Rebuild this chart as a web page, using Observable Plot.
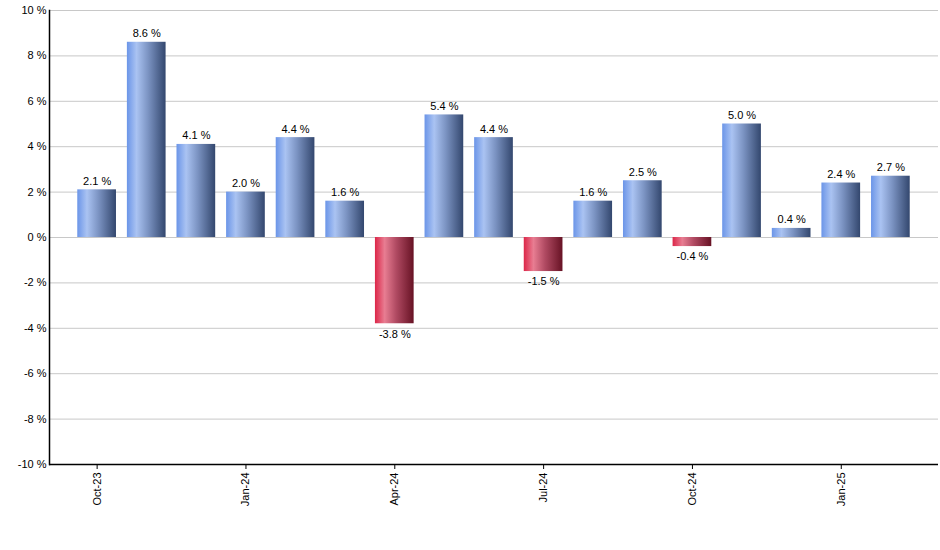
<!DOCTYPE html>
<html>
<head>
<meta charset="utf-8">
<script src="https://cdn.jsdelivr.net/npm/d3@7"></script>
<script src="https://cdn.jsdelivr.net/npm/@observablehq/plot@0.6"></script>
<style>
  html, body { margin: 0; padding: 0; background: #fff; }
</style>
</head>
<body>
<div id="chart"></div>
<script>
const months = ["Oct-23","Nov-23","Dec-23","Jan-24","Feb-24","Mar-24","Apr-24","May-24","Jun-24","Jul-24","Aug-24","Sep-24","Oct-24","Nov-24","Dec-24","Jan-25","Feb-25"];
const values = [2.1, 8.6, 4.1, 2.0, 4.4, 1.6, -3.8, 5.4, 4.4, -1.5, 1.6, 2.5, -0.4, 5.0, 0.4, 2.4, 2.7];
const xTickLabels = ["Oct-23","Jan-24","Apr-24","Jul-24","Oct-24","Jan-25"];
const yTicks = [-10, -8, -6, -4, -2, 0, 2, 4, 6, 8, 10];

const data = months.map((m, i) => ({month: m, value: values[i]}));
const fmt = v => v.toFixed(1) + " %";

const svg = Plot.plot({
  width: 940,
  height: 550,
  marginLeft: 49,
  marginRight: 2,
  marginTop: 10,
  marginBottom: 86,
  style: {fontFamily: "'Liberation Sans', Arial, sans-serif", fontSize: "11px", color: "#000", background: "#fff"},
  x: {domain: months, type: "band", round: false, paddingInner: 0.22, paddingOuter: 0.57, label: null},
  y: {domain: [-10, 10], label: null},
  marks: [
    Plot.gridY(yTicks, {stroke: "#c8c8c8", strokeOpacity: 1}),
    Plot.barY(data, {x: "month", y: "value", fill: d => d.value >= 0 ? "url(#gradPos)" : "url(#gradNeg)"}),
    Plot.text(data.filter(d => d.value >= 0), {x: "month", y: "value", text: d => fmt(d.value), lineAnchor: "bottom", dy: -5, fill: "#000", fontSize: 11}),
    Plot.text(data.filter(d => d.value < 0), {x: "month", y: "value", text: d => fmt(d.value), lineAnchor: "top", dy: 6, fill: "#000", fontSize: 11}),
    Plot.ruleY([-10], {stroke: "#000", strokeWidth: 1.5}),
    Plot.frame({anchor: "left", stroke: "#000", strokeWidth: 1.5}),
    Plot.axisY({ticks: yTicks, tickSize: 0, tickPadding: 3, tickFormat: d => d + " %", label: null, fontSize: 11}),
    Plot.axisX({ticks: xTickLabels, tickSize: 5, tickRotate: -90, tickPadding: 3, label: null, fontSize: 11})
  ]
});

d3.select(svg).insert("defs", ":first-child").html(`
  <linearGradient id="gradPos" x1="0" y1="0" x2="1" y2="0">
    <stop offset="0" stop-color="#6b95e8"/>
    <stop offset="0.25" stop-color="#aac3f2"/>
    <stop offset="0.55" stop-color="#7b93c2"/>
    <stop offset="1" stop-color="#33476e"/>
  </linearGradient>
  <linearGradient id="gradNeg" x1="0" y1="0" x2="1" y2="0">
    <stop offset="0" stop-color="#dc2648"/>
    <stop offset="0.25" stop-color="#e87d92"/>
    <stop offset="0.55" stop-color="#b04a62"/>
    <stop offset="1" stop-color="#671224"/>
  </linearGradient>
`);

document.getElementById("chart").appendChild(svg);
</script>
</body>
</html>
